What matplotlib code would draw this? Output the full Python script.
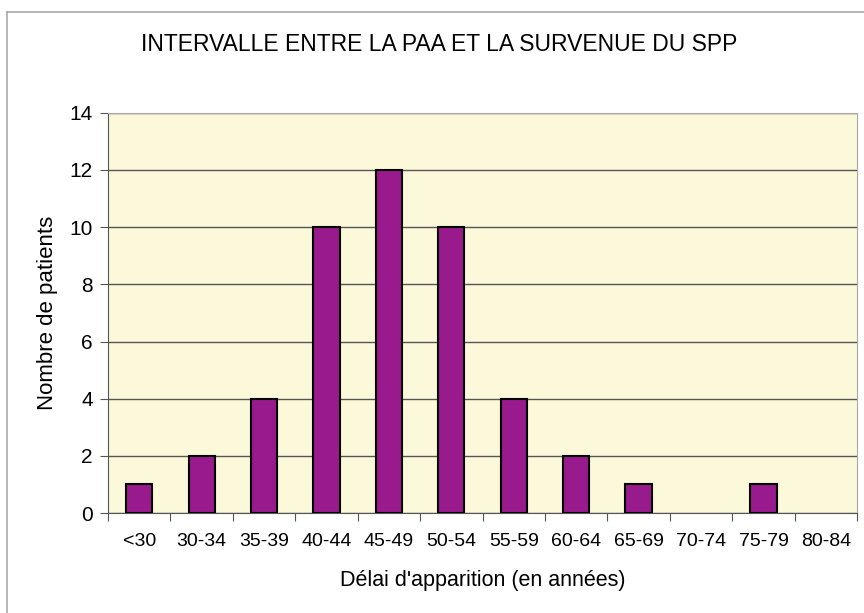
import matplotlib.pyplot as plt
import numpy as np

# data
categories = ['<30', '30-34', '35-39', '40-44', '45-49', '50-54',
              '55-59', '60-64', '65-69', '70-74', '75-79', '80-84']
patients = [1, 2, 4, 10, 12, 10, 4, 2, 1, 0, 1, 0]

plt.rcParams['font.family'] = ['Liberation Sans', 'DejaVu Sans']

fig = plt.figure(figsize=(8.64, 6.13), dpi=100)
ax = fig.add_axes([0.125, 0.163, 0.867, 0.653])

x = np.arange(len(categories))
ax.set_facecolor('#fbf9d9')
# no outline on empty categories
widths = [1.5 if p > 0 else 0 for p in patients]
ax.bar(x, patients, width=0.42, color='#991a8c', edgecolor='black', linewidth=widths, zorder=3)

ax.set_xlim(-0.5, len(categories) - 0.5)
ax.set_ylim(0, 14)
ax.set_yticks(range(0, 15, 2))
ax.yaxis.grid(True, color='#555555', linewidth=1, zorder=0)

# ticks between categories, labels centred under bars
ax.set_xticks(np.arange(-0.5, len(categories), 1))
ax.set_xticklabels([])
ax.set_xticks(x, minor=True)
ax.set_xticklabels(categories, minor=True)
ax.tick_params(axis='x', which='minor', length=0, pad=14, labelsize=14)
ax.tick_params(axis='x', which='major', length=6, color='#555555')
ax.tick_params(axis='y', length=6, color='#555555', labelsize=15, pad=5)

ax.spines['top'].set_color('#aaaaaa')
ax.spines['right'].set_color('#aaaaaa')
ax.spines['left'].set_color('#555555')
ax.spines['bottom'].set_color('#555555')

ax.set_xlabel("Délai d'apparition (en années)", fontsize=15.5, labelpad=15)
ax.set_ylabel('Nombre de patients', fontsize=16, labelpad=8)
fig.text(0.508, 0.927, 'INTERVALLE ENTRE LA PAA ET LA SURVENUE DU SPP',
         ha='center', va='center', fontsize=16.5)

# outer frame of the chart (only top and left edges are in view)
fig.add_artist(plt.Line2D([0.008, 1.0], [0.98, 0.98], color='#aaaaaa', linewidth=1.2))
fig.add_artist(plt.Line2D([0.008, 0.008], [0.0, 0.98], color='#aaaaaa', linewidth=1.2))

fig.savefig('out.png', dpi=100)
